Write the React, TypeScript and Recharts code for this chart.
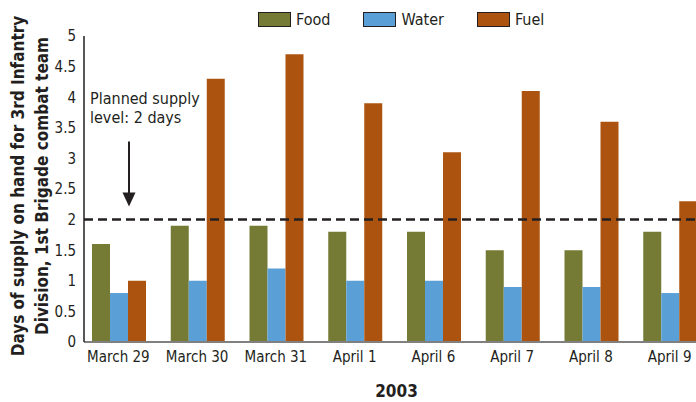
import { BarChart, Bar, XAxis, YAxis, ReferenceLine, Legend } from 'recharts';

const categories = ['March 29', 'March 30', 'March 31', 'April 1', 'April 6', 'April 7', 'April 8', 'April 9'];
const food = [1.6, 1.9, 1.9, 1.8, 1.8, 1.5, 1.5, 1.8];
const water = [0.8, 1.0, 1.2, 1.0, 1.0, 0.9, 0.9, 0.8];
const fuel = [1.0, 4.3, 4.7, 3.9, 3.1, 4.1, 3.6, 2.3];
const yTicks = [0, 0.5, 1, 1.5, 2, 2.5, 3, 3.5, 4, 4.5, 5];
const plannedLevel = 2;

const series = [
  { key: 'food', name: 'Food', color: '#757b34' },
  { key: 'water', name: 'Water', color: '#5aa0d6' },
  { key: 'fuel', name: 'Fuel', color: '#ac540f' },
];

const rows = categories.map((day, i) => ({ day, food: food[i], water: water[i], fuel: fuel[i] }));

const FONT = '"DejaVu Sans Condensed", "DejaVu Sans", sans-serif';
const INK = '#231f20';

function LegendBox() {
  return (
    <div style={{ display: 'flex', paddingLeft: 258, paddingTop: 10, fontFamily: FONT, fontSize: 16, color: INK }}>
      {series.map((s) => (
        <div key={s.key} style={{ display: 'flex', alignItems: 'center', marginRight: 33 }}>
          <span style={{ width: 31, height: 13, background: s.color, border: `1px solid ${INK}`, marginRight: 5 }} />
          <span>{s.name}</span>
        </div>
      ))}
    </div>
  );
}

function YTitle(props: any) {
  const vb = props.viewBox;
  const cy = vb.y + vb.height / 2 - 3;
  return (
    <g fontFamily={FONT} fontWeight="bold" fontSize={17} fill={INK} textAnchor="middle">
      <text x={24} y={cy} transform={`rotate(-90 24 ${cy})`}>Days of supply on hand for 3rd Infantry</text>
      <text x={48} y={cy} transform={`rotate(-90 48 ${cy})`}>Division, 1st Brigade combat team</text>
    </g>
  );
}

function Planned(props: any) {
  const { x, y } = props.viewBox;
  const ax = x + 45;
  return (
    <g fontFamily={FONT} fontSize={16} fill={INK}>
      <text x={x + 6} y={y - 116}>Planned supply</text>
      <text x={x + 6} y={y - 97}>level: 2 days</text>
      <line x1={ax} x2={ax} y1={y - 78} y2={y - 26} stroke={INK} strokeWidth={2} />
      <polygon points={`${ax - 6.5},${y - 27} ${ax + 6.5},${y - 27} ${ax},${y - 13}`} fill={INK} />
    </g>
  );
}

export default function App() {
  return (
    <div style={{ position: 'absolute', left: 0, top: 0, width: 696, height: 402, overflow: 'hidden', background: '#fff' }}>
      <BarChart width={709} height={402} data={rows} margin={{ top: 0, right: 0, bottom: 0, left: 0 }} barCategoryGap={13} barGap={0}>
        <Legend verticalAlign="top" height={36} content={<LegendBox />} />
        <XAxis
          dataKey="day"
          height={60}
          padding={{ left: -5, right: 0 }}
          tickLine={false}
          axisLine={{ stroke: '#808080', strokeWidth: 2 }}
          tick={{ fill: INK, fontSize: 15, fontFamily: FONT, dy: 1 }}
          label={{ value: '2003', position: 'insideBottom', offset: 5, fill: INK, fontSize: 17, fontWeight: 'bold', fontFamily: FONT }}
        />
        <YAxis
          width={84}
          domain={[0, 5]}
          ticks={yTicks}
          interval={0}
          tickLine={false}
          axisLine={{ stroke: INK, strokeWidth: 1.5 }}
          tick={{ fill: INK, fontSize: 15, fontFamily: FONT }}
          label={{ content: <YTitle /> }}
        />
        {series.map((s) => (
          <Bar key={s.key} dataKey={s.key} name={s.name} fill={s.color} isAnimationActive={false} />
        ))}
        <ReferenceLine y={plannedLevel} stroke={INK} strokeWidth={2.5} strokeDasharray="9 5" label={<Planned />} />
      </BarChart>
    </div>
  );
}
